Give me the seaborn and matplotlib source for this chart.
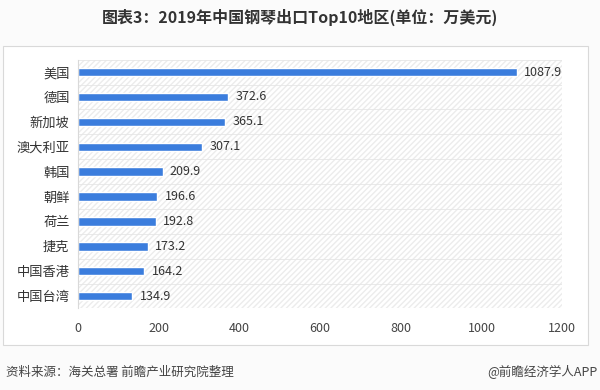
import pandas as pd
import numpy as np

import seaborn as sns
import matplotlib.pyplot as plt
from matplotlib.patches import Rectangle

regions = ['美国', '德国', '新加坡', '澳大利亚', '韩国', '朝鲜', '荷兰', '捷克', '中国香港', '中国台湾']
values = [1087.9, 372.6, 365.1, 307.1, 209.9, 196.6, 192.8, 173.2, 164.2, 134.9]
xticks = [0, 200, 400, 600, 800, 1000, 1200]

df = pd.DataFrame({'region': regions, 'value': values})

sns.set_style('white')
plt.rcParams['font.family'] = ['Noto Sans CJK SC', 'DejaVu Sans']

fig = plt.figure(figsize=(6, 3.9), dpi=100)
fig.patch.set_facecolor('#fbfbfb')

# marco gris alrededor del grafico
fig.add_artist(Rectangle((0.005, 0.115), 0.975, 0.767, transform=fig.transFigure,
                         facecolor='white', edgecolor='#d9d9d9', lw=0.8, zorder=-1))

ax = fig.add_axes([0.13, 0.209, 0.807, 0.638])
ax.patch.set_alpha(0)
sns.barplot(data=df, x='value', y='region', color='#3b7ddd', width=0.34,
            saturation=1, ax=ax)

# fondo rayado
ax.add_patch(Rectangle((0, -0.5), 1200, 10, facecolor='none', edgecolor='#ececec',
                       hatch='//////', lw=0, zorder=0))
for k in range(len(regions) + 1):
    ax.axhline(k - 0.5, color='#e6e6e6', lw=0.6, zorder=0.5)

for i, v in enumerate(values):
    ax.text(v + 18, i, f'{v}', va='center', ha='left', fontsize=9, color='#333333')

ax.set_xlim(0, 1200)
ax.set_ylim(9.5, -0.5)
ax.set_xticks(xticks)
ax.set_xlabel('')
ax.set_ylabel('')
ax.tick_params(axis='x', length=0, pad=10, labelsize=9, colors='#444444')
ax.tick_params(axis='y', length=0, pad=6, labelsize=9.5, colors='#333333')
for s in ax.spines.values():
    s.set_visible(False)
ax.spines['left'].set_visible(True)
ax.spines['left'].set_color('#d9d9d9')
ax.spines['left'].set_linewidth(0.8)

fig.text(0.5, 0.955, '图表3：2019年中国钢琴出口Top10地区(单位：万美元)', ha='center',
         va='center', fontsize=11.5, fontweight='bold', color='#333333')
fig.text(0.01, 0.045, '资料来源：海关总署 前瞻产业研究院整理', ha='left', va='center',
         fontsize=9, color='#444444')
fig.text(0.995, 0.045, '@前瞻经济学人APP', ha='right', va='center',
         fontsize=9, color='#444444')

fig.savefig('out.png', dpi=100, facecolor=fig.get_facecolor())
